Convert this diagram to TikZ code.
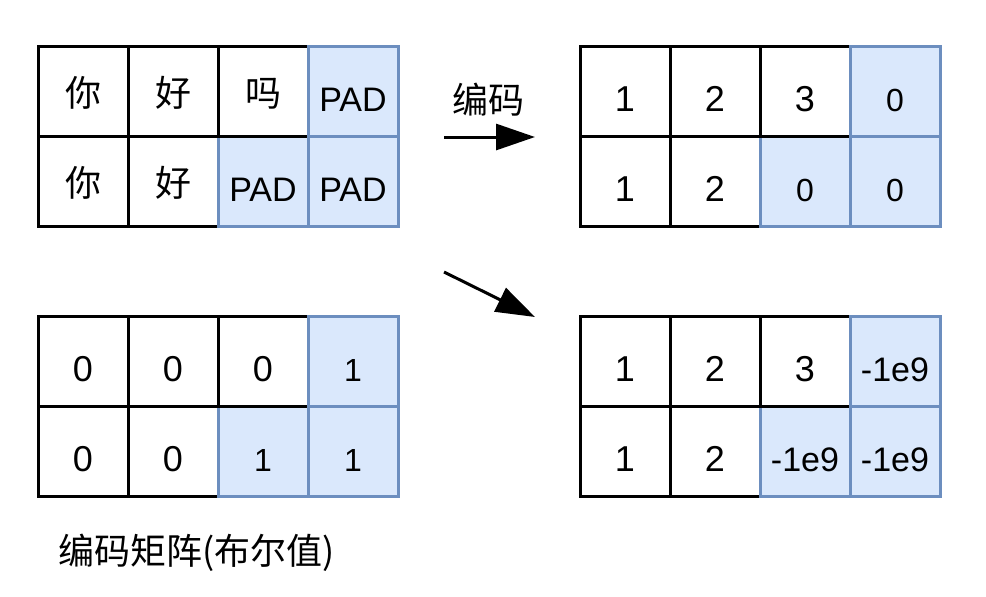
\documentclass[tikz,border=0pt]{standalone}
\usepackage{fontspec}
\setmainfont{Liberation Sans}
\newfontfamily\cjk{Noto Sans CJK SC}
\usepackage{tikz}
\usetikzlibrary{arrows.meta}
\definecolor{padfill}{HTML}{DAE8FC}
\definecolor{padline}{HTML}{6C8EBF}
\newcommand\cellfont{\fontsize{18}{18}\selectfont}
\newcommand\padfont{\fontsize{17}{17}\selectfont}
\newcommand\padnumfont{\fontsize{16}{16}\selectfont}
\newcommand\zhfont{\cjk\fontsize{18}{18}\selectfont}
\tikzset{
  cell/.style={draw=black, fill=white, line width=1.5pt, minimum width=45pt,
    minimum height=45pt, inner sep=0pt, text height=20.5pt, text depth=0pt,
    font=\cellfont},
  word/.style={cell, text height=15.5pt, font=\zhfont},
  pad/.style={cell, draw=padline, fill=padfill, font=\padfont},
  padnum/.style={cell, draw=padline, fill=padfill, font=\padnumfont},
  zh/.style={font=\zhfont},
  arr/.style={line width=1.5pt, -{Triangle[length=19.5pt,width=13pt]}}
}

\begin{document}
\begin{tikzpicture}[x=0.5pt, y=-0.5pt]
    \useasboundingbox (0,0) rectangle (986,596);
    % words
    \begin{scope}[shift={(38,46)}]
      \node[word] (a21) at (45,135) {你};
      \node[word] (a22) at (135,135) {好};
      \node[pad] (a23) at (225,135) {PAD};
      \node[pad] (a24) at (315,135) {PAD};
      \node[word] (a11) at (45,45) {你};
      \node[word] (a12) at (135,45) {好};
      \node[word] (a13) at (225,45) {吗};
      \node[pad] (a14) at (315,45) {PAD};
    \end{scope}
    % ids
    \begin{scope}[shift={(580,46)}]
      \node[cell] (b21) at (45,135) {1};
      \node[cell] (b22) at (135,135) {2};
      \node[padnum] (b23) at (225,135) {0};
      \node[padnum] (b24) at (315,135) {0};
      \node[cell] (b11) at (45,45) {1};
      \node[cell] (b12) at (135,45) {2};
      \node[cell] (b13) at (225,45) {3};
      \node[padnum] (b14) at (315,45) {0};
    \end{scope}
    % mask
    \begin{scope}[shift={(38,316)}]
      \node[cell] (c21) at (45,135) {0};
      \node[cell] (c22) at (135,135) {0};
      \node[padnum] (c23) at (225,135) {1};
      \node[padnum] (c24) at (315,135) {1};
      \node[cell] (c11) at (45,45) {0};
      \node[cell] (c12) at (135,45) {0};
      \node[cell] (c13) at (225,45) {0};
      \node[padnum] (c14) at (315,45) {1};
    \end{scope}
    % masked
    \begin{scope}[shift={(580,316)}]
      \node[cell] (d21) at (45,135) {1};
      \node[cell] (d22) at (135,135) {2};
      \node[pad] (d23) at (225,135) {-1e9};
      \node[pad] (d24) at (315,135) {-1e9};
      \node[cell] (d11) at (45,45) {1};
      \node[cell] (d12) at (135,45) {2};
      \node[cell] (d13) at (225,45) {3};
      \node[pad] (d14) at (315,45) {-1e9};
    \end{scope}
    \coordinate (enc0) at (444,137);
    \coordinate (enc1) at (535,137);
    \coordinate (msk0) at (444,272);
    \coordinate (msk1) at (535,317);
    \draw[arr] (enc0) -- (enc1);
    \draw[arr] (msk0) -- (msk1);
    \node[zh] (enclabel) at (488,100) {编码};
    \node[zh] (masklabel) at (197,553) {编码矩阵(布尔值)};
  \end{tikzpicture}
\end{document}
